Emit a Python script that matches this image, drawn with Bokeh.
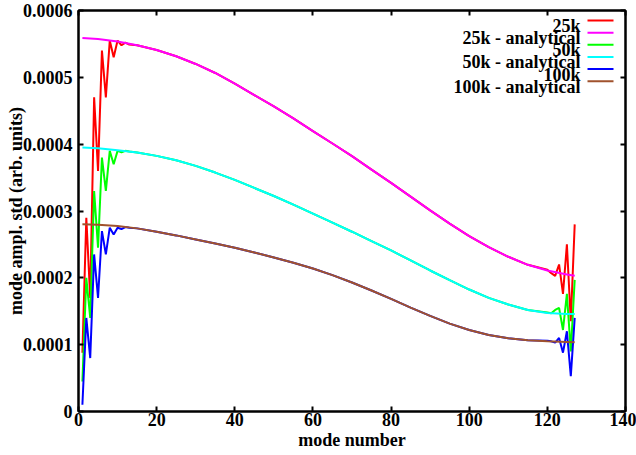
from bokeh.plotting import figure
from bokeh.models import LinearAxis, FixedTicker, NumeralTickFormatter, Label, Arrow
from bokeh.embed import file_html
from bokeh.resources import INLINE

# ---------------- data ----------------
# analytical curves, read every 5 modes
ana_modes = [1, 5, 10, 15, 20, 25, 30, 35, 40, 45, 50, 55, 60, 65, 70,
             75, 80, 85, 90, 95, 100, 105, 110, 115, 120, 125, 127]
ana_25k = [559e-6, 557.5e-6, 553.5e-6, 548e-6, 541e-6, 531.5e-6, 520e-6,
           506.5e-6, 490.5e-6, 473.5e-6, 456.5e-6, 438.5e-6, 419.5e-6,
           401e-6, 382e-6, 362e-6, 342e-6, 321.5e-6, 301e-6, 281e-6,
           262.5e-6, 246e-6, 231.5e-6, 219.5e-6, 211e-6, 205e-6, 203e-6]
ana_50k = [395e-6, 394e-6, 391e-6, 387.5e-6, 382.5e-6, 376e-6, 367.5e-6,
           357.5e-6, 346.5e-6, 334.5e-6, 322.5e-6, 309.5e-6, 296e-6,
           282.5e-6, 269e-6, 255e-6, 241e-6, 226e-6, 211e-6, 196.5e-6,
           182.5e-6, 170e-6, 160e-6, 152e-6, 147.5e-6, 146e-6, 146e-6]
ana_100k = [280e-6, 279.5e-6, 277.5e-6, 274e-6, 269e-6, 263.5e-6, 257.5e-6,
            251.5e-6, 245e-6, 238e-6, 230.5e-6, 222.5e-6, 214e-6, 204e-6,
            193e-6, 181e-6, 168.5e-6, 155.5e-6, 143e-6, 131.5e-6, 122e-6,
            114.5e-6, 109.5e-6, 106.5e-6, 105e-6, 104e-6, 103.5e-6]

# simulated curves: noisy start (modes 1-13) and end (modes 120-127);
# in between they lie on the analytical curves (modes 15-115 above)
start_modes = [1, 2, 3, 4, 5, 6, 7, 8, 9, 10, 11, 12, 13]
end_modes = [120, 121, 122, 123, 124, 125, 126, 127]

start_25k = [0.000088, 0.00029, 0.00017, 0.00047, 0.00036, 0.00054, 0.00047,
             0.000555, 0.00053, 0.000555, 0.000548, 0.000552, 0.000549]
end_25k = [0.000212, 0.000207, 0.000203, 0.00022, 0.000176, 0.00025,
           0.000135, 0.00028]

start_50k = [0.000045, 0.0002, 0.00014, 0.00033, 0.000245, 0.00038, 0.00033,
             0.00039, 0.00037, 0.00039, 0.000388, 0.00039, 0.000389]
end_50k = [0.000148, 0.000147, 0.000152, 0.000155, 0.000122, 0.000176,
           0.00009, 0.000197]

start_100k = [0.00001, 0.00014, 0.00008, 0.000235, 0.00017, 0.00027,
              0.000235, 0.000275, 0.000265, 0.000275, 0.000273, 0.000276,
              0.000275]
end_100k = [0.000106, 0.000105, 0.000103, 0.00011, 0.000088, 0.00012,
            0.000053, 0.00014]

x_ticks = [0, 20, 40, 60, 80, 100, 120, 140]
y_ticks = [0, 0.0001, 0.0002, 0.0003, 0.0004, 0.0005, 0.0006]

series_labels = ["25k", "25k - analytical", "50k", "50k - analytical",
                 "100k", "100k - analytical"]
series_colors = ["#ff0000", "#ff00ff", "#00ff00", "#00ffff", "#0000ff", "#a0522d"]

# ---------------- layout constants ----------------
W, H = 636, 455
ML, MR, MT, MB = 78, 11, 10, 44
FONT = "Liberation Serif"
FS = "18px"

p = figure(width=W, height=H, x_range=(0, 140), y_range=(0, 0.0006),
           output_backend="svg", toolbar_location=None, title=None,
           min_border_left=ML, min_border_right=MR,
           min_border_top=MT, min_border_bottom=MB)
p.background_fill_color = "white"
p.border_fill_color = "white"
p.xgrid.visible = False
p.ygrid.visible = False
p.outline_line_color = "black"
p.outline_line_width = 2

mid = [i for i, m in enumerate(ana_modes) if 15 <= m <= 115]
mid_modes = [ana_modes[i] for i in mid]


def sim_series(start_vals, ana_vals, end_vals):
    xs = start_modes + mid_modes + end_modes
    ys = start_vals + [ana_vals[i] for i in mid] + end_vals
    return xs, ys


series = [sim_series(start_25k, ana_25k, end_25k), (ana_modes, ana_25k),
          sim_series(start_50k, ana_50k, end_50k), (ana_modes, ana_50k),
          sim_series(start_100k, ana_100k, end_100k), (ana_modes, ana_100k)]
for (xs, ys), c in zip(series, series_colors):
    p.line(xs, ys, line_color=c, line_width=2)


def style_axis(ax, ticks, labels=True):
    ax.ticker = FixedTicker(ticks=ticks)
    ax.axis_line_color = "black"
    ax.axis_line_width = 2
    ax.major_tick_in = 5
    ax.major_tick_out = 0
    ax.major_tick_line_width = 2
    ax.major_tick_line_color = "black"
    ax.minor_tick_line_color = None
    ax.major_label_text_font = FONT
    ax.major_label_text_font_style = "bold"
    ax.axis_label_text_font = FONT
    ax.axis_label_text_font_style = "bold"
    ax.axis_label_text_font_size = FS
    ax.axis_label_text_color = "black"
    if labels:
        ax.major_label_text_font_size = FS
        ax.major_label_text_color = "black"
    else:
        ax.major_label_text_font_size = "1px"
        ax.major_label_text_color = None
        ax.major_label_standoff = 0


xa = p.xaxis[0]
style_axis(xa, x_ticks)
xa.major_label_standoff = 1
xa.axis_label = "mode number"
xa.axis_label_standoff = 1

ya = p.yaxis[0]
style_axis(ya, y_ticks)
ya.formatter = NumeralTickFormatter(format="0.[0000]")
ya.major_label_standoff = 6
ya.axis_label = "mode ampl. std (arb. units)"
ya.axis_label_standoff = -6

top = LinearAxis()
style_axis(top, x_ticks, labels=False)
p.add_layout(top, "above")
right = LinearAxis()
style_axis(right, y_ticks, labels=False)
p.add_layout(right, "right")

# ---------------- legend (drawn in screen units, top right) ----------------
frame_bottom = H - MB
text_right = 580 - ML
line_x0, line_x1 = 587 - ML, 613 - ML
first_line_y, step = 20.0, 12.15
for i, (lab, c) in enumerate(zip(series_labels, series_colors)):
    ly = first_line_y + i * step
    p.add_layout(Label(x=text_right, y=frame_bottom - (ly + 5.5),
                       x_units="screen", y_units="screen", text=lab,
                       text_align="right", text_baseline="alphabetic",
                       text_font=FONT, text_font_style="bold",
                       text_font_size=FS, text_color="black"))
    p.add_layout(Arrow(x_start=line_x0, y_start=frame_bottom - ly,
                       x_end=line_x1, y_end=frame_bottom - ly,
                       start_units="screen", end_units="screen",
                       start=None, end=None, line_color=c, line_width=2))

open("out.html", "w").write(file_html(p, INLINE))
